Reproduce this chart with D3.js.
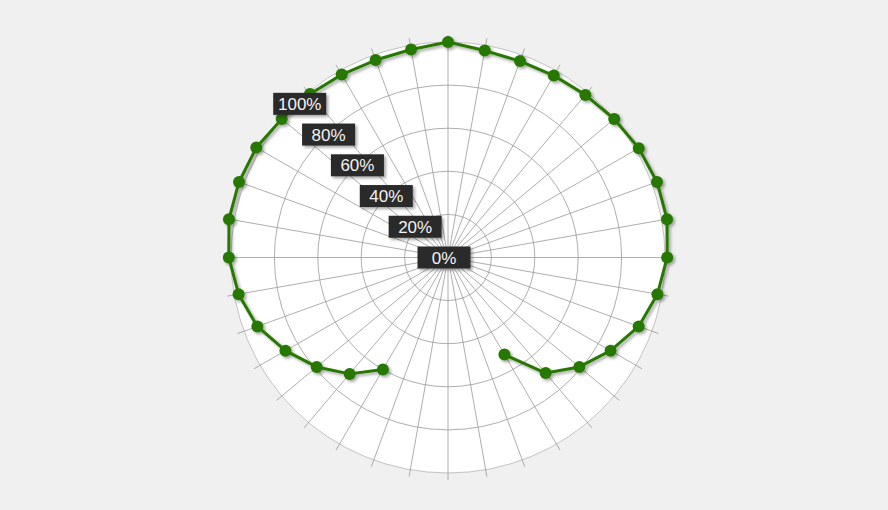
<!DOCTYPE html>
<html>
<head>
<meta charset="utf-8">
<script src="https://cdn.jsdelivr.net/npm/d3@7"></script>
<style>
  html, body { margin: 0; padding: 0; background: #f0f0f0; }
  svg { display: block; }
</style>
</head>
<body>
<div class="chart"></div>
<script>
const width = 888;
const height = 510;

// angle of each category (degrees, clockwise from top)
const angles = [0, 10, 20, 30, 40, 50, 60, 70, 80, 90, 100, 110, 120, 130, 140, 150, 160, 170,
  180, 190, 200, 210, 220, 230, 240, 250, 260, 270, 280, 290, 300, 310, 320, 330, 340, 350];
// series values in percent, null where the series has no point
const values = [100, 97.5, 97, 97.5, 98.5, 100, 101.5, 102.5, 102.5, 101, 98, 93.5, 86.5, 79, 70, 52,
  null, null, null, null, null, 60, 70.5, 79, 86.5, 93.5, 98, 101, 102.5, 102.5, 102, 100, 99, 98, 97.5, 98];
const ringTicks = [0, 20, 40, 60, 80, 100];
const ringLabels = ["0%", "20%", "40%", "60%", "80%", "100%"];

const cx = 448;
const cy = 257.5;
const rx = 217;
const ry = 215.5;
const labelAngle = 317;

const rScale = d3.scaleLinear().domain([0, 100]).range([0, 1]);

function point(angle, v, extra = 0) {
  const a = (angle * Math.PI) / 180;
  const k = rScale(v);
  return [cx + (rx * k + extra) * Math.sin(a), cy - (ry * k + extra) * Math.cos(a)];
}

const svg = d3
  .select(".chart")
  .append("svg")
  .attr("width", width)
  .attr("height", height);

const defs = svg.append("defs");
defs
  .append("filter")
  .attr("id", "shadow")
  .attr("x", "-50%")
  .attr("y", "-50%")
  .attr("width", "200%")
  .attr("height", "200%")
  .append("feDropShadow")
  .attr("dx", 2)
  .attr("dy", 2)
  .attr("stdDeviation", 1.8)
  .attr("flood-color", "#000")
  .attr("flood-opacity", 0.35);

// plot background
svg
  .append("ellipse")
  .attr("cx", cx)
  .attr("cy", cy)
  .attr("rx", rx)
  .attr("ry", ry)
  .attr("fill", "#fff");

// rings
svg
  .append("g")
  .selectAll("ellipse")
  .data(ringTicks.filter((d) => d > 0))
  .enter()
  .append("ellipse")
  .attr("cx", cx)
  .attr("cy", cy)
  .attr("rx", (d) => rx * rScale(d))
  .attr("ry", (d) => ry * rScale(d))
  .attr("fill", "none")
  .attr("stroke", (d) => (d === 100 ? "#b4b4b4" : "#999"))
  .attr("stroke-width", 0.8);

// spokes with small ticks past the outer ring
svg
  .append("g")
  .selectAll("line")
  .data(angles)
  .enter()
  .append("line")
  .attr("x1", cx)
  .attr("y1", cy)
  .attr("x2", (d) => point(d, 100, 7)[0])
  .attr("y2", (d) => point(d, 100, 7)[1])
  .attr("stroke", "#999")
  .attr("stroke-width", 0.8);

// series
const pts = angles.map((a, i) => ({ angle: a, value: values[i] }));
let firstIdx = 0;
for (let i = 0; i < pts.length; i++) {
  if (pts[i].value == null && (i + 1 < pts.length) && pts[i + 1].value != null) firstIdx = i + 1;
}
const ordered = pts.slice(firstIdx).concat(pts.slice(0, firstIdx)).filter((d) => d.value != null);

const line = d3
  .line()
  .x((d) => point(d.angle, d.value)[0])
  .y((d) => point(d.angle, d.value)[1]);

const series = svg.append("g").attr("filter", "url(#shadow)");
series
  .append("path")
  .attr("d", line(ordered))
  .attr("fill", "none")
  .attr("stroke", "#287800")
  .attr("stroke-width", 3)
  .attr("stroke-linejoin", "round");

series
  .selectAll("circle")
  .data(ordered)
  .enter()
  .append("circle")
  .attr("cx", (d) => point(d.angle, d.value)[0])
  .attr("cy", (d) => point(d.angle, d.value)[1])
  .attr("r", 6)
  .attr("fill", "#287800");

// ring labels
const labels = svg
  .append("g")
  .selectAll("g")
  .data(ringTicks)
  .enter()
  .append("g")
  .attr("transform", (d) => {
    const p = point(labelAngle, d * 0.975);
    return `translate(${p[0] - 4},${p[1]})`;
  });

labels
  .append("rect")
  .attr("x", -26.5)
  .attr("y", -11)
  .attr("width", 53)
  .attr("height", 22)
  .attr("fill", "#2b2b2b")
  .attr("filter", "url(#shadow)");

labels
  .append("text")
  .attr("text-anchor", "middle")
  .attr("dy", "0.36em")
  .attr("fill", "#f4f4f4")
  .style("font-family", "'Liberation Sans', Arial, sans-serif")
  .style("font-size", "17px")
  .text((d, i) => ringLabels[i]);
</script>
</body>
</html>
